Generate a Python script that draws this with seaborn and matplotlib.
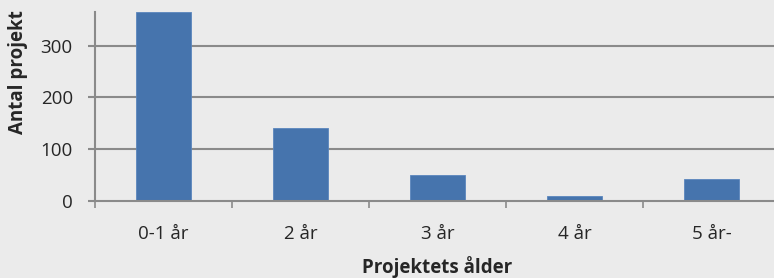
import matplotlib
matplotlib.use("Agg")
import matplotlib.pyplot as plt
import seaborn as sns
import pandas as pd
from matplotlib.ticker import FixedLocator

categories = ["0-1 år", "2 år", "3 år", "4 år", "5 år-"]
values = [365, 141, 51, 10, 42]
y_ticks = [0, 100, 200, 300]
x_label = "Projektets ålder"
y_label = "Antal projekt"

df = pd.DataFrame({"age": categories, "count": values})

sns.set_theme(style="white")
plt.rcParams["font.family"] = ["Open Sans", "DejaVu Sans"]

bg = "#ebebeb"
grid_c = "#8a8a8a"
text_c = "#262626"

fig = plt.figure(figsize=(7.74, 2.78), dpi=100, facecolor=bg)
ax = fig.add_axes([95 / 774, 1 - 201 / 278, 685 / 774, 189 / 278])
ax.set_facecolor(bg)

sns.barplot(data=df, x="age", y="count", ax=ax, color="#4674ad",
            width=0.4, saturation=1, edgecolor="#5a86bd", linewidth=0.6, zorder=3)

ax.set_xlim(-0.5, len(categories) - 0.5)
ax.set_ylim(0, 365)
ax.set_yticks(y_ticks)
ax.set_yticklabels([str(v) for v in y_ticks])
for y in y_ticks[1:]:
    ax.axhline(y, color=grid_c, lw=1.5, zorder=1)

for s in ["top", "right"]:
    ax.spines[s].set_visible(False)
for s in ["left", "bottom"]:
    ax.spines[s].set_color(grid_c)
    ax.spines[s].set_linewidth(1.5)
    ax.spines[s].set_zorder(4)

ax.xaxis.set_minor_locator(FixedLocator([i - 0.5 for i in range(len(categories) + 1)]))
ax.tick_params(axis="x", which="major", length=0, pad=17, labelsize=13.5, labelcolor=text_c)
ax.tick_params(axis="x", which="minor", length=5, width=1.2, color=grid_c, direction="out", bottom=True)
ax.tick_params(axis="y", which="major", length=5, width=1.5, color=grid_c, direction="out",
               left=True, pad=11, labelsize=13.5, labelcolor=text_c)

ax.set_xlabel(x_label, fontsize=13.5, fontweight="bold", color=text_c)
ax.xaxis.set_label_coords(0.5, -0.29)
ax.set_ylabel(y_label, fontsize=13.5, fontweight="bold", color=text_c)
ax.yaxis.set_label_coords(-0.098, 0.68)

fig.savefig("out.png", dpi=100, facecolor=bg)
